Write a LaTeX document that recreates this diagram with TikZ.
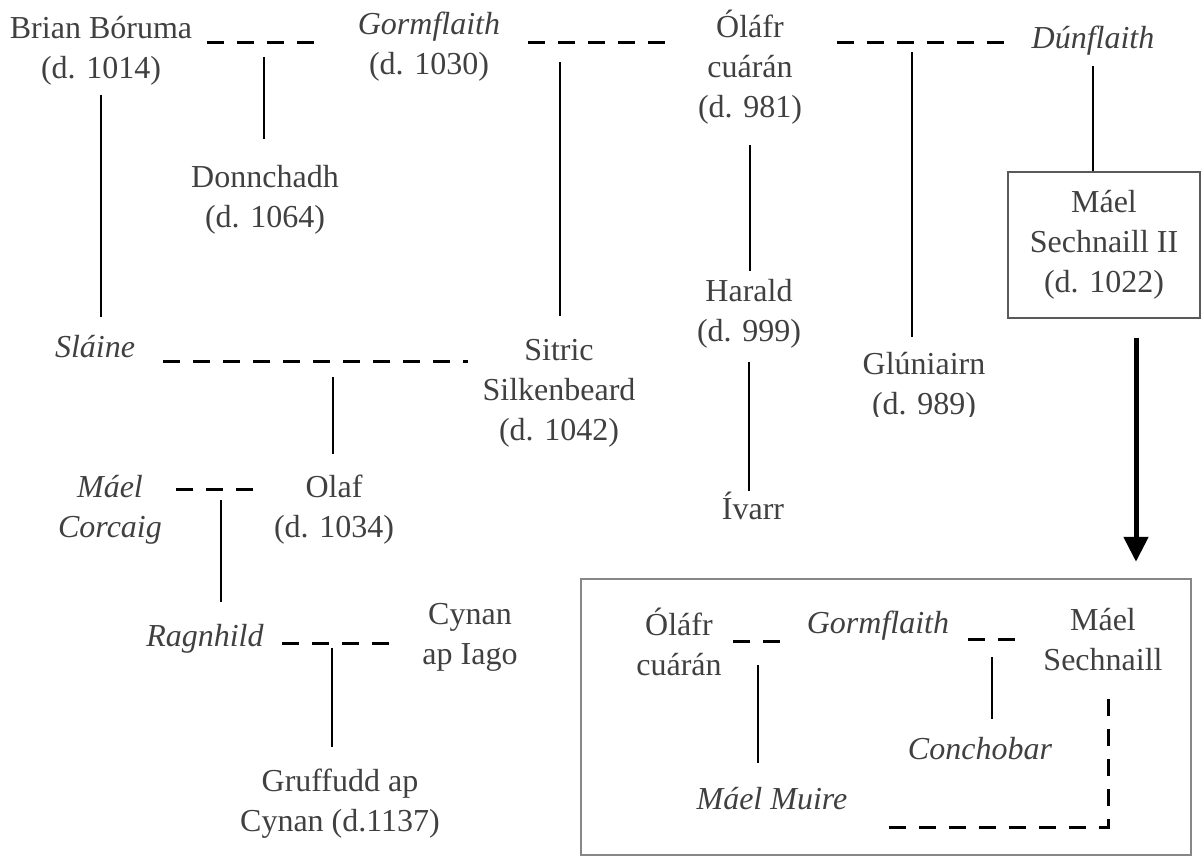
\documentclass[tikz,border=0pt]{standalone}
\usepackage{fontspec}
\setmainfont{Liberation Serif}
\usetikzlibrary{arrows.meta}
\definecolor{ink}{RGB}{64,64,64}
\definecolor{boxline}{RGB}{90,90,90}
\definecolor{frameline}{RGB}{135,135,135}

\begin{document}
\begin{tikzpicture}[x=1pt, y=-1pt,
    person/.style={align=center, inner sep=0pt, text=ink, font=\fontsize{32}{40}\selectfont},
    wed/.style={line width=3pt, dash pattern=on 17pt off 13pt},
    kin/.style={line width=1.3pt},
    bigarrow/.style={line width=5pt, -{Triangle[width=24pt,length=25pt]}},
    framed/.style={draw=#1, line width=2.5pt}]
  \useasboundingbox (0,0) rectangle (1203,859);
  % first generation
  \node[person] (brian) at (101,51) {Brian Bóruma\\(d. 1014)};
  \node[person] (gorm) at (429,47) {\textit{Gormflaith}\\(d. 1030)};
  \node[person] (olafr) at (750,67) {Óláfr\\cuárán\\(d. 981)};
  \node[person] (dunf) at (1093,41) {\textit{Dúnflaith}};
  % their children
  \node[person] (donn) at (265,200) {Donnchadh\\(d. 1064)};
  \node[person] (sitric) at (559,393) {Sitric\\Silkenbeard\\(d. 1042)};
  \node[person] (harald) at (749,314) {Harald\\(d. 999)};
  \node[person] (ivarr) at (753,506) {Ívarr};
  \begin{scope}
    \clip (850,330) rectangle (1000,416);
    \node[person] (glun) at (924,387) {Glúniairn\\(d. 989)};
  \end{scope}
  \node[person, framed=boxline, minimum width=192pt, minimum height=146pt] (maelII) at (1104,245) {Máel\\Sechnaill II\\(d. 1022)};
  % next generations
  \node[person] (slaine) at (95,347) {\textit{Sláine}};
  \node[person] (maelc) at (110,510) {\textit{Máel}\\\textit{Corcaig}};
  \node[person] (olaf) at (334,510) {Olaf\\(d. 1034)};
  \node[person] (ragn) at (205,639) {\textit{Ragnhild}};
  \node[person] (cynan) at (470,637) {Cynan\\ap Iago};
  \node[person] (gruff) at (340,804) {Gruffudd ap\\Cynan (d.1137)};
  % the box below
  \node[framed=frameline, minimum width=610pt, minimum height=276pt, inner sep=0pt] (after) at (886,717) {};
  \node[person] (olafr2) at (679,642) {Óláfr\\cuárán};
  \node[person] (gorm2) at (878,626) {\textit{Gormflaith}};
  \node[person] (mael2) at (1103,640) {Máel\\Sechnaill};
  \node[person] (conch) at (980,749) {\textit{Conchobar}};
  \node[person] (mmuire) at (772,799) {\textit{Máel Muire}};

  % marriages
  \coordinate (m1) at (264,43);
  \coordinate (m2) at (560,43);
  \coordinate (m3) at (912,43);
  \coordinate (m4) at (333,361);
  \coordinate (m5) at (221,489);
  \coordinate (m6) at (332,643);
  \coordinate (m7) at (758,641);
  \coordinate (m8) at (992,639);
  \coordinate (m9) at (1108,827);
  \coordinate (m9end) at (886,827);
  \draw[wed, shorten <=15pt, shorten >=33pt] (brian.east |- m1) -- (gorm.west |- m1);
  \draw[wed, shorten <=28pt, shorten >=29pt] (gorm.east |- m2) -- (olafr.west |- m2);
  \draw[wed, shorten <=35pt, shorten >=22pt] (olafr.east |- m3) -- (dunf.west |- m3);
  \draw[wed, shorten <=28pt, shorten >=14pt] (slaine.east |- m4) -- (sitric.west |- m4);
  \draw[wed, shorten <=14pt, shorten >=19pt] (maelc.east |- m5) -- (olaf.west |- m5);
  \draw[wed, shorten <=18pt, shorten >=29pt] (ragn.east |- m6) -- (cynan.west |- m6);
  \draw[wed, shorten <=11pt, shorten >=26pt] (olafr2.east |- m7) -- (gorm2.west |- m7);
  \draw[wed, shorten <=19pt, shorten >=28pt] (gorm2.east |- m8) -- (mael2.west |- m8);
  \draw[wed, shorten <=28pt] (mael2.south -| m9) |- (m9end);

  % descent
  \draw[kin, shorten <=14pt, shorten >=26pt] (m1) -- (m1 |- donn.north);
  \draw[kin, shorten <=19pt, shorten >=23pt] (m2) -- (m2 |- sitric.north);
  \draw[kin, shorten <=21pt, shorten >=8pt] (olafr.south) -- (olafr.south |- harald.north);
  \draw[kin, shorten <=13pt, shorten >=1pt] (harald.south) -- (harald.south |- ivarr.north);
  \draw[kin, shorten <=9pt, shorten >=15pt] (m3) -- (m3 |- glun.north);
  \draw[kin, shorten <=10pt] (dunf.south) -- (dunf.south |- maelII.north);
  \draw[kin, shorten <=9pt, shorten >=19pt] (brian.south) -- (brian.south |- slaine.north);
  \draw[kin, shorten <=16pt, shorten >=21pt] (m4) -- (m4 |- olaf.north);
  \draw[kin, shorten <=11pt, shorten >=22pt] (m5) -- (m5 |- ragn.north);
  \draw[kin, shorten <=5pt, shorten >=22pt] (m6) -- (m6 |- gruff.north);
  \draw[kin, shorten <=24pt, shorten >=25pt] (m7) -- (m7 |- mmuire.north);
  \draw[kin, shorten <=18pt, shorten >=19pt] (m8) -- (m8 |- conch.north);

  % into the box
  \coordinate (arrtop) at ([xshift=32pt,yshift=-19pt]maelII.south);
  \draw[bigarrow, shorten >=16pt] (arrtop) -- (arrtop |- after.north);
\end{tikzpicture}
\end{document}
